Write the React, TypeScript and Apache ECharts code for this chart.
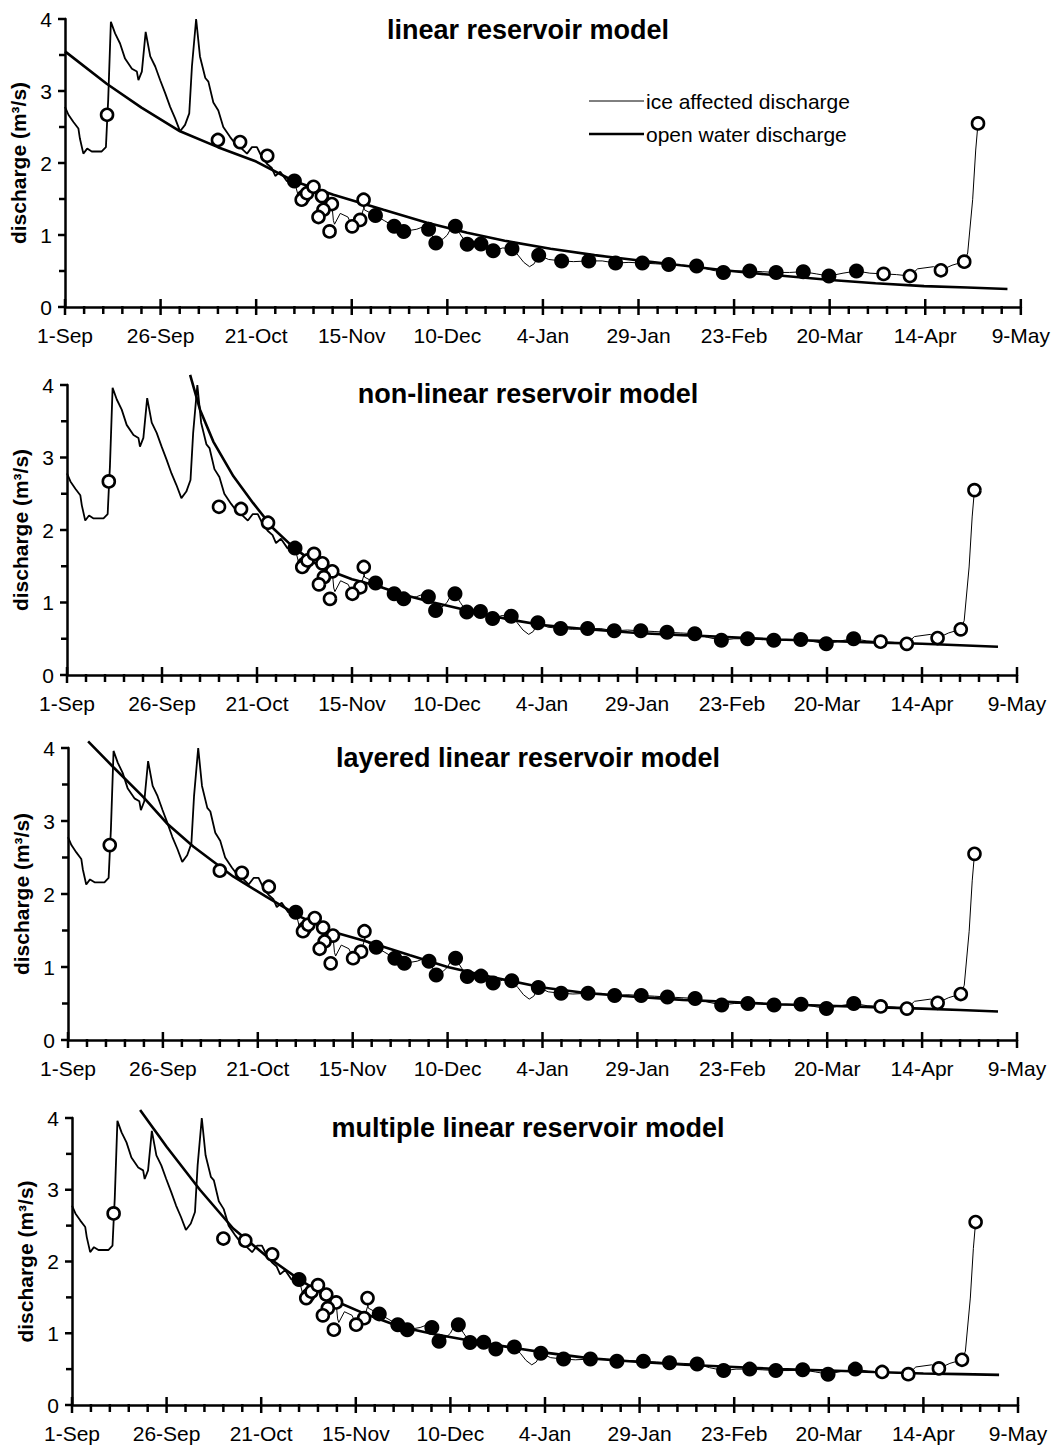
import React, { useEffect, useRef } from "react";
import * as echarts from "echarts";

const FONT = "'Liberation Sans', Arial, Helvetica, sans-serif";

// x-axis: days since 1-Sep, tick labels every 25 days
const TICK_LABELS = ["1-Sep", "26-Sep", "21-Oct", "15-Nov", "10-Dec", "4-Jan", "29-Jan", "23-Feb", "20-Mar", "14-Apr", "9-May"];
const X_MAJOR_TICKS = [0, 25, 50, 75, 100, 125, 150, 175, 200, 225, 250];
const X_MINOR_TICKS = [
  5, 10, 15, 20, 30, 35, 40, 45, 55, 60, 65, 70, 80, 85, 90, 95, 105, 110, 115, 120,
  130, 135, 140, 145, 155, 160, 165, 170, 180, 185, 190, 195, 205, 210, 215, 220,
  230, 235, 240, 245,
];
const Y_MAJOR_TICKS = [0, 1, 2, 3, 4];
const Y_MINOR_TICKS = [0.5, 1.5, 2.5, 3.5];

const PANEL_TITLES = [
  "linear reservoir model",
  "non-linear reservoir model",
  "layered linear reservoir model",
  "multiple linear reservoir model",
];

// observed open-water hydrograph (day, m3/s)
const OBS_HYDRO: number[][] = [
  [0, 2.78], [0.9, 2.67], [2.2, 2.57], [3.5, 2.48], [3.9, 2.34], [4.8, 2.13], [5.8, 2.2], [7.0, 2.16],
  [9.6, 2.16], [10.7, 2.22], [11.1, 2.67], [11.3, 2.88], [12.0, 3.96], [13.1, 3.8], [14.4, 3.66],
  [15.7, 3.45], [17.5, 3.31], [18.8, 3.27], [19.2, 3.15], [20.1, 3.27], [21.1, 3.82], [22.3, 3.48],
  [23.6, 3.34], [24.9, 3.15], [26.2, 2.97], [27.5, 2.78], [28.8, 2.62], [30.1, 2.44], [31.4, 2.53],
  [32.5, 2.69], [33.2, 3.34], [34.3, 4.0], [35.3, 3.48], [36.7, 3.18], [37.5, 3.13], [38.8, 2.84],
  [40.1, 2.73], [41.4, 2.5], [43.2, 2.36], [44.5, 2.27], [45.8, 2.22], [47.6, 2.13], [48.9, 2.22],
  [50.2, 2.22], [51.5, 2.08], [52.8, 1.99], [54.1, 1.93], [55.0, 1.82], [56.3, 1.88], [58.0, 1.75],
  [60.0, 1.75],
];

// ice affected discharge (thin line)
const ICE_LINE: number[][] = [
  [60.0, 1.75], [61.2, 1.5], [61.8, 1.4], [62.5, 1.53], [64.0, 1.6], [65.0, 1.67], [66.3, 1.5],
  [67.2, 1.54], [68.2, 1.42], [69.8, 1.43], [70.2, 1.2], [70.5, 1.15], [72.0, 1.3], [74.0, 1.25],
  [75.1, 1.12], [77.2, 1.21], [78.1, 1.37], [78.1, 1.49], [78.3, 1.35], [81.2, 1.27], [83.5, 1.2],
  [86.1, 1.12], [88.6, 1.05], [92.0, 1.08], [94.0, 1.12], [95.1, 1.08], [97.0, 0.89], [99.0, 0.95],
  [100.0, 1.0], [101.0, 1.1], [102.1, 1.12], [103.5, 1.0], [105.2, 0.87], [107.0, 0.9], [108.8, 0.875],
  [110.5, 0.83], [112.0, 0.78], [114.5, 0.82], [116.9, 0.81], [118.5, 0.72], [120.0, 0.62],
  [121.5, 0.56], [122.7, 0.6], [123.9, 0.72], [126.5, 0.66], [129.9, 0.64], [133.0, 0.63],
  [137.0, 0.64], [140.5, 0.64], [144.0, 0.61], [147.5, 0.62], [151.0, 0.61], [154.5, 0.6],
  [157.9, 0.59], [161.5, 0.58], [165.2, 0.57], [168.5, 0.52], [172.2, 0.48], [175.5, 0.5],
  [179.1, 0.5], [182.5, 0.49], [186.0, 0.48], [189.5, 0.48], [193.1, 0.49], [196.5, 0.46],
  [199.8, 0.43], [203.5, 0.47], [207.0, 0.5], [210.5, 0.47], [214.1, 0.46], [217.5, 0.45],
  [221.0, 0.43], [223.0, 0.53], [227.2, 0.56], [229.1, 0.51], [232.0, 0.58], [235.2, 0.63],
  [236.1, 0.75], [237.4, 1.49], [238.2, 2.18], [238.8, 2.55],
];

// measured discharge, open-water (open circles)
const OPEN_PTS: number[][] = [
  [11.0, 2.67], [40.0, 2.32], [45.8, 2.29], [52.9, 2.1], [62.4, 1.53], [61.9, 1.49], [63.3, 1.58],
  [65.0, 1.67], [67.2, 1.54], [69.8, 1.43], [67.6, 1.35], [66.3, 1.25], [69.2, 1.05], [78.1, 1.49],
  [77.2, 1.21], [75.1, 1.12], [214.1, 0.46], [221.0, 0.43], [229.1, 0.51], [235.2, 0.63], [238.8, 2.55],
];

// measured discharge under ice (filled circles)
const FILLED_PTS: number[][] = [
  [60.0, 1.75], [81.2, 1.27], [86.1, 1.12], [88.6, 1.05], [95.1, 1.08], [97.0, 0.89], [102.1, 1.12],
  [105.2, 0.87], [108.8, 0.875], [112.0, 0.78], [116.9, 0.81], [123.9, 0.72], [129.9, 0.64],
  [137.0, 0.64], [144.0, 0.61], [151.0, 0.61], [157.9, 0.59], [165.2, 0.57], [172.2, 0.48],
  [179.1, 0.5], [186.0, 0.48], [193.1, 0.49], [199.8, 0.43], [207.0, 0.5],
];

// modelled open water discharge, one curve per panel
const MODEL_LINEAR: number[][] = [
  [0, 3.55], [10.9, 3.1], [20, 2.77], [30.1, 2.44], [40, 2.22], [50, 2.02], [59.8, 1.75], [70.2, 1.56],
  [83.3, 1.35], [94.7, 1.17], [105.2, 1.03], [115, 0.92], [127, 0.81], [138.5, 0.72], [149.7, 0.65],
  [161, 0.58], [172.4, 0.51], [186, 0.44], [200.3, 0.375], [212, 0.33], [224.7, 0.29], [236, 0.27],
  [246.5, 0.25],
];
const MODEL_NONLINEAR: number[][] = [
  [32.4, 4.14], [35, 3.66], [38.5, 3.22], [43.8, 2.74], [49, 2.37], [54.3, 2.02], [59.6, 1.76],
  [65, 1.55], [70, 1.42], [75, 1.32], [81.5, 1.23], [89, 1.1], [96.4, 1.0], [109.5, 0.84], [117, 0.76],
  [125, 0.69], [137, 0.63], [150, 0.58], [162, 0.55], [175, 0.52], [187, 0.49], [200, 0.47],
  [212, 0.45], [225, 0.43], [235, 0.41], [245, 0.39],
];
const MODEL_LAYERED: number[][] = [
  [5.3, 4.09], [11.9, 3.74], [19.8, 3.33], [26, 2.97], [33, 2.65], [43.5, 2.24], [52.3, 1.96],
  [61.1, 1.69], [69.9, 1.48], [78.7, 1.35], [90.1, 1.16], [100, 1.0], [110, 0.88], [125, 0.72],
  [137, 0.64], [150, 0.59], [162, 0.55], [175, 0.52], [187, 0.49], [200, 0.47], [212, 0.45],
  [225, 0.43], [235, 0.41], [245, 0.39],
];
const MODEL_MULTIPLE: number[][] = [
  [18, 4.11], [25, 3.6], [33.8, 3.0], [42.6, 2.46], [51.5, 2.07], [60.3, 1.74], [69.1, 1.46],
  [77.9, 1.26], [86.7, 1.09], [95.5, 0.99], [105, 0.9], [115, 0.81], [125, 0.73], [137, 0.65],
  [150, 0.6], [162, 0.56], [175, 0.53], [187, 0.5], [200, 0.48], [212, 0.46], [225, 0.44],
  [235, 0.43], [245, 0.42],
];

const MODELS = [MODEL_LINEAR, MODEL_NONLINEAR, MODEL_LAYERED, MODEL_MULTIPLE];

const GRIDS = [
  { left: 65, top: 19, width: 956, height: 288 },
  { left: 67, top: 385, width: 950, height: 290 },
  { left: 68, top: 748, width: 949, height: 292 },
  { left: 72, top: 1118, width: 946, height: 287 },
];
const TITLE_Y = [30, 394, 758, 1128];

// all tick marks of one panel drawn as a single group through the library's coordinate system
function tickSeries(i: number) {
  return {
    type: "custom",
    xAxisIndex: i,
    yAxisIndex: i,
    silent: true,
    clip: false,
    z: 6,
    data: [[0, 0]],
    renderItem: (_params: any, api: any) => {
      const children: any[] = [];
      const style = () => ({ stroke: "#000", lineWidth: 2.5 });
      X_MAJOR_TICKS.forEach((v) => {
        const p = api.coord([v, 0]);
        children.push({ type: "line", shape: { x1: p[0], y1: p[1] - 8, x2: p[0], y2: p[1] + 8 }, style: style() });
      });
      X_MINOR_TICKS.forEach((v) => {
        const p = api.coord([v, 0]);
        children.push({ type: "line", shape: { x1: p[0], y1: p[1] - 1, x2: p[0], y2: p[1] + 7 }, style: style() });
      });
      Y_MAJOR_TICKS.forEach((v) => {
        const p = api.coord([0, v]);
        children.push({ type: "line", shape: { x1: p[0] - 7, y1: p[1], x2: p[0] + 1, y2: p[1] }, style: style() });
      });
      Y_MINOR_TICKS.forEach((v) => {
        const p = api.coord([0, v]);
        children.push({ type: "line", shape: { x1: p[0] - 6, y1: p[1], x2: p[0] + 1, y2: p[1] }, style: style() });
      });
      return { type: "group", children };
    },
  };
}

function buildOption() {
  const xAxis: any[] = [];
  const yAxis: any[] = [];
  const series: any[] = [];
  const graphic: any[] = [];
  const black = "#000";

  GRIDS.forEach((g, i) => {
    xAxis.push({
      gridIndex: i,
      type: "value",
      min: 0,
      max: 250,
      interval: 25,
      axisLine: { show: true, onZero: false, lineStyle: { color: black, width: 2.5 } },
      axisTick: { show: false },
      minorTick: { show: false },
      splitLine: { show: false },
      minorSplitLine: { show: false },
      axisLabel: {
        color: black,
        fontSize: 21,
        fontFamily: FONT,
        margin: 18,
        formatter: (v: number) => TICK_LABELS[Math.round(v / 25)] ?? "",
      },
    });
    yAxis.push({
      gridIndex: i,
      type: "value",
      min: 0,
      max: 4,
      interval: 1,
      axisLine: { show: true, onZero: false, lineStyle: { color: black, width: 2.5 } },
      axisTick: { show: false },
      minorTick: { show: false },
      splitLine: { show: false },
      axisLabel: { color: black, fontSize: 21, fontFamily: FONT, margin: 13 },
      name: "discharge (m³/s)",
      nameLocation: "middle",
      nameRotate: 90,
      nameGap: 29,
      nameTextStyle: { color: black, fontSize: 21, fontWeight: "bold", fontFamily: FONT },
    });

    const common = { xAxisIndex: i, yAxisIndex: i, silent: true };
    series.push({
      ...common,
      type: "line",
      name: "observed",
      data: OBS_HYDRO,
      symbol: "none",
      lineStyle: { color: black, width: 1.8 },
      z: 2,
    });
    series.push({
      ...common,
      type: "line",
      name: "ice affected discharge",
      data: ICE_LINE,
      symbol: "none",
      lineStyle: { color: black, width: 1 },
      z: 2,
    });
    series.push({
      ...common,
      type: "line",
      name: "open water discharge",
      data: MODELS[i],
      symbol: "none",
      clip: false,
      lineStyle: { color: black, width: 2.6 },
      z: 3,
    });
    series.push({
      ...common,
      type: "scatter",
      name: "open",
      data: OPEN_PTS,
      symbol: "circle",
      symbolSize: 12,
      itemStyle: { color: "#fff", borderColor: black, borderWidth: 2.6, opacity: 1 },
      z: 4,
    });
    series.push({
      ...common,
      type: "scatter",
      name: "ice",
      data: FILLED_PTS,
      symbol: "circle",
      symbolSize: 15,
      itemStyle: { color: black, opacity: 1 },
      z: 4,
    });
    series.push(tickSeries(i));

    graphic.push({
      type: "text",
      x: 528,
      y: TITLE_Y[i],
      style: {
        text: PANEL_TITLES[i],
        fill: black,
        font: `bold 27px ${FONT}`,
        textAlign: "center",
        textVerticalAlign: "middle",
      },
    });
  });

  // legend in the first panel
  graphic.push(
    { type: "line", shape: { x1: 589, y1: 101, x2: 644, y2: 101 }, style: { stroke: black, lineWidth: 1 } },
    {
      type: "text",
      x: 646,
      y: 101,
      style: { text: "ice affected discharge", fill: black, font: `21px ${FONT}`, textVerticalAlign: "middle" },
    },
    { type: "line", shape: { x1: 589, y1: 134, x2: 644, y2: 134 }, style: { stroke: black, lineWidth: 2.5 } },
    {
      type: "text",
      x: 646,
      y: 134,
      style: { text: "open water discharge", fill: black, font: `21px ${FONT}`, textVerticalAlign: "middle" },
    }
  );

  return {
    animation: false,
    backgroundColor: "#fff",
    textStyle: { fontFamily: FONT },
    grid: GRIDS.map((g) => ({ ...g, containLabel: false })),
    xAxis,
    yAxis,
    series,
    graphic,
  };
}

export default function App() {
  const ref = useRef<HTMLDivElement>(null);
  useEffect(() => {
    const chart = echarts.init(ref.current!, null, { renderer: "svg" });
    chart.setOption(buildOption() as any);
    return () => chart.dispose();
  }, []);
  return (
    <div
      ref={ref}
      style={{ position: "absolute", left: 0, top: 0, width: 1053, height: 1448, background: "#fff" }}
    />
  );
}
